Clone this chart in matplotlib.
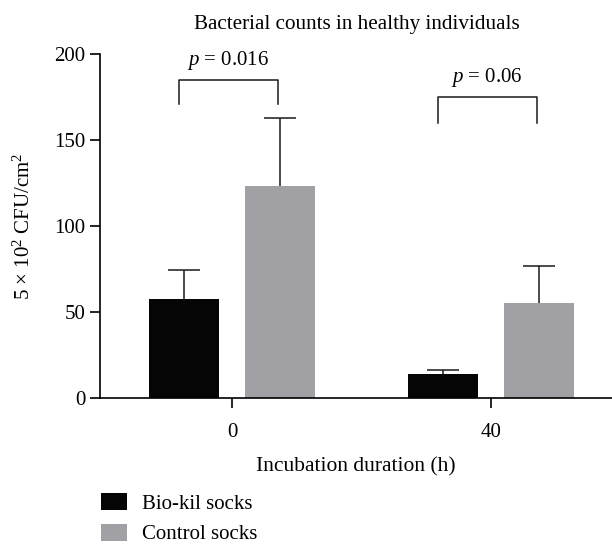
import matplotlib
matplotlib.use("Agg")
import matplotlib.pyplot as plt
import numpy as np

plt.rcParams['font.family'] = ['Liberation Serif', 'DejaVu Serif']
plt.rcParams['mathtext.fontset'] = 'custom'
plt.rcParams['mathtext.rm'] = 'Liberation Serif'
plt.rcParams['mathtext.it'] = 'Liberation Serif:italic'

categories = ['0', '40']
series_names = ['Bio-kil socks', 'Control socks']
biokil = [57.5, 14.0]
biokil_err = [17.0, 2.0]
control = [123.0, 55.5]
control_err = [40.0, 21.0]
yticks = [0, 50, 100, 150, 200]
pvals = ['0.016', '0.06']
bracket_top = [185, 175]
bracket_bottom = [171, 160]

colors = ['#050505', '#a1a0a5']
FS = 15

fig = plt.figure(figsize=(6.12, 5.45), dpi=100)
ax = fig.add_axes([100/612, (545-398)/545, 512/612, 344/545])

x = np.arange(len(categories))
w = 0.27
off = 0.186
b1 = ax.bar(x - off, biokil, w, color=colors[0], label=series_names[0], zorder=2)
b2 = ax.bar(x + off, control, w, color=colors[1], label=series_names[1], zorder=2)
for xs, vals, errs in [(x - off, biokil, biokil_err), (x + off, control, control_err)]:
    eb = ax.errorbar(xs, vals, yerr=[np.zeros(len(x)), errs], fmt='none',
                     ecolor='#1a1a1a', elinewidth=1.1, capsize=11.5, capthick=1.1, zorder=3)
    eb[1][0].set_visible(False)

for i in range(len(x)):
    xl = x[i] - off - 0.02
    xr = x[i] + off - 0.01
    ax.plot([xl, xl, xr, xr], [bracket_bottom[i], bracket_top[i], bracket_top[i], bracket_bottom[i]],
            color='#1a1a1a', lw=1.1, clip_on=False)
    ax.text((xl + xr) / 2, bracket_top[i] + 4.5, r'$p$ = ' + pvals[i], ha='center', va='bottom',
            fontsize=FS)

ax.set_xlim(-0.51, 1.467)
ax.set_ylim(0, 200)
ax.set_xticks(x)
ax.set_xticklabels(categories)
ax.set_yticks(yticks)
ax.spines['top'].set_visible(False)
ax.spines['right'].set_visible(False)
for s in ['left', 'bottom']:
    ax.spines[s].set_linewidth(1.2)
ax.tick_params(axis='both', width=1.2, length=7, labelsize=FS, direction='out')
ax.tick_params(axis='x', pad=11)
ax.set_xlabel('Incubation duration (h)', fontsize=15.5, labelpad=11)
ax.set_ylabel(r'5 × 10$^2$ CFU/cm$^2$', fontsize=FS, labelpad=14)
ax.set_title('Bacterial counts in healthy individuals', fontsize=15.2, pad=18, x=0.502)

fig.legend(handles=[b1, b2], labels=series_names, loc='upper left',
           bbox_to_anchor=(101/612, 1 - 493/545), frameon=False, fontsize=FS,
           handlelength=1.25, handleheight=0.85, handletextpad=0.7, labelspacing=0.5,
           borderaxespad=0, borderpad=0)

fig.savefig('out.png', dpi=100)
